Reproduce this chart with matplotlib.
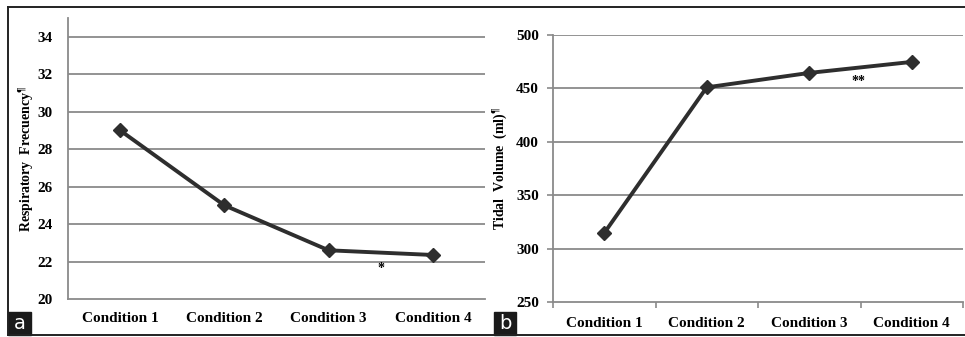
import matplotlib
matplotlib.use("Agg")
import matplotlib.pyplot as plt
from matplotlib.lines import Line2D
from matplotlib.patches import Rectangle

# data
conditions = ["Condition 1", "Condition 2", "Condition 3", "Condition 4"]
resp_freq = [29.0, 25.0, 22.6, 22.35]
tidal_vol = [314.6, 451.0, 464.5, 474.8]
resp_ticks = [20, 22, 24, 26, 28, 30, 32, 34]
tidal_ticks = [250, 300, 350, 400, 450, 500]

plt.rcParams["font.family"] = "Liberation Serif"
plt.rcParams["font.weight"] = "bold"
plt.rcParams["axes.labelweight"] = "bold"
plt.rcParams["mathtext.fontset"] = "custom"
plt.rcParams["mathtext.rm"] = "Liberation Serif:bold"

W, H = 965, 337
fig = plt.figure(figsize=(W / 100, H / 100), dpi=100)


def px_axes(x0, x1, ytop, ybot):
    return fig.add_axes([x0 / W, (H - ybot) / H, (x1 - x0) / W, (ybot - ytop) / H])


grid_c = "#8a8a8a"
line_c = "#2e2e2e"
xs = list(range(len(conditions)))

# panel a
ax1 = px_axes(68, 485, 18, 299)
ax1.plot(xs, resp_freq, color=line_c, lw=2.8, marker="D", ms=7, mfc=line_c, mec=line_c)
ax1.set_xlim(-0.5, 3.5)
ax1.set_ylim(20, 35)
ax1.set_yticks(resp_ticks)
ax1.set_xticks(xs)
ax1.set_xticklabels(conditions)
ax1.tick_params(axis="both", length=0, labelsize=11, pad=9)
ax1.tick_params(axis="y", pad=11)
for y in resp_ticks[1:]:
    ax1.axhline(y, color=grid_c, lw=1.3, zorder=0)
ax1.text(2.5, 21.65, "*", ha="center", va="center", fontsize=10)
ax1.set_ylabel(r"Respiratory  Frecuency$^{¶}$", fontsize=10, labelpad=1)

# panel b
ax2 = px_axes(553, 963, 35, 302)
ax2.plot(xs, tidal_vol, color=line_c, lw=2.8, marker="D", ms=7, mfc=line_c, mec=line_c)
ax2.set_xlim(-0.5, 3.5)
ax2.set_ylim(250, 500)
ax2.set_yticks(tidal_ticks)
ax2.set_xticks(xs)
ax2.set_xticklabels(conditions)
ax2.set_xticks([-0.5, 0.5, 1.5, 2.5, 3.5], minor=True)
ax2.tick_params(axis="x", which="major", length=0, labelsize=11, pad=11)
ax2.tick_params(axis="x", which="minor", length=4, color=grid_c, width=1.2)
ax2.tick_params(axis="y", length=4, color=grid_c, width=1.2, labelsize=11, pad=6)
for y in tidal_ticks[1:]:
    ax2.axhline(y, color=grid_c, lw=1.3, zorder=0)
ax2.text(2.48, 456, "**", ha="center", va="center", fontsize=10)
ax2.set_ylabel(r"Tidal  Volume  (ml)$^{¶}$", fontsize=10, labelpad=5)

for ax in (ax1, ax2):
    for s in ("top", "right"):
        ax.spines[s].set_visible(False)
    for s in ("left", "bottom"):
        ax.spines[s].set_color(grid_c)
        ax.spines[s].set_linewidth(1.3)
    ax.set_facecolor("none")


# outer frame lines
def fx(x):
    return x / W


def fy(y):
    return (H - y) / H


frame = dict(color="#222222", lw=1.4, transform=fig.transFigure)
fig.add_artist(Line2D([fx(8), 1], [fy(7), fy(7)], **frame))
fig.add_artist(Line2D([fx(8), 1], [fy(335), fy(335)], **frame))
fig.add_artist(Line2D([fx(8), fx(8)], [fy(7), fy(335)], **frame))

# panel letters
for x0, x1, letter in [(8, 31, "a"), (494, 516, "b")]:
    fig.add_artist(Rectangle((fx(x0), fy(335)), (x1 - x0) / W, 23 / H,
                             transform=fig.transFigure, color="#1a1a1a"))
    fig.text(fx((x0 + x1) / 2), fy(323.5), letter, color="white", ha="center", va="center",
             fontsize=14, family="DejaVu Sans", weight="normal")

fig.savefig("out.png", dpi=100)
